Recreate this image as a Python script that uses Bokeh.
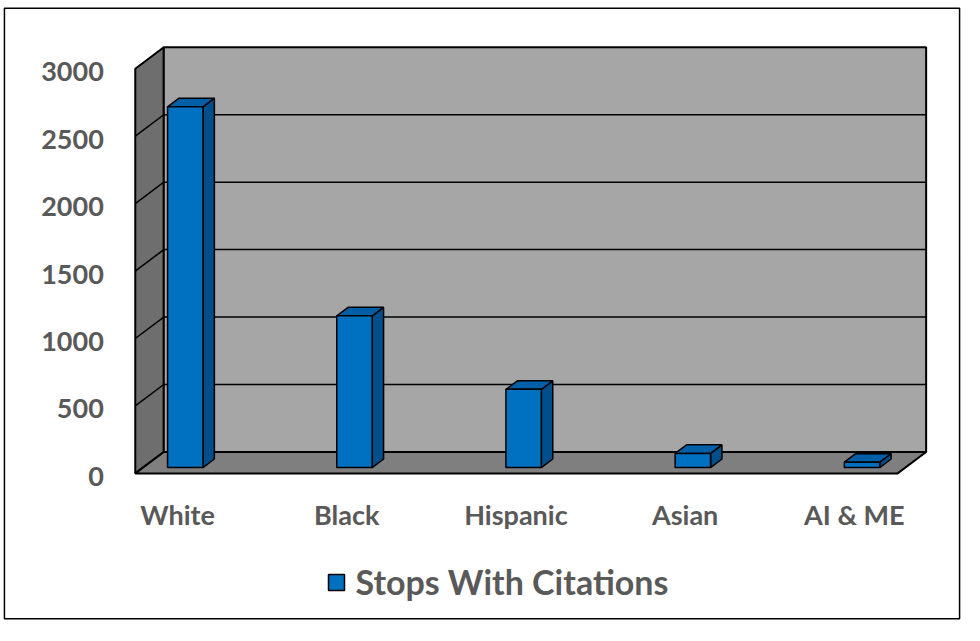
from bokeh.plotting import figure
from bokeh.models import Range1d, Legend, LegendItem
from bokeh.core.properties import value
from bokeh.embed import file_html
from bokeh.resources import INLINE

# ---- data ----
categories = ["White", "Black", "Hispanic", "Asian", "AI & ME"]
stops_with_citations = [2675, 1125, 580, 105, 40]
y_ticks = [0, 500, 1000, 1500, 2000, 2500, 3000]
series_name = "Stops With Citations"

# ---- layout (reference-image pixels, scaled onto the figure) ----
REF_W, REF_H = 980.0, 641.0
W, H = 964, 625
KX, KY = W / REF_W, H / REF_H
PX0, SLOT = 180.0, 172.0          # front-plane centre of first category, spacing
Y0, SY = 485.0, 415.0 / 3000.0    # front-plane zero, px per unit
DEPTH_X, DEPTH_Y = 29.0, 22.0     # wall depth in px
FLOOR_L, FLOOR_R = 137.0, 912.0
YMAX = 3000


def xd(px):
    return (px - PX0) / SLOT


def yd(py):
    return (Y0 - py) / SY


dX = DEPTH_X / SLOT
dY = DEPTH_Y / SY
xL, xR = xd(FLOOR_L), xd(FLOOR_R)

p = figure(width=W, height=H, output_backend="svg", toolbar_location=None,
           x_axis_type=None, y_axis_type=None,
           x_range=Range1d(xd(0), xd(REF_W)),
           y_range=Range1d(yd(REF_H), yd(0)),
           min_border=0)
p.grid.visible = False
p.outline_line_color = None
p.background_fill_color = "white"
p.border_fill_color = "white"

# chart border
p.patch([xd(4), xd(975), xd(975), xd(4)], [yd(8), yd(8), yd(634), yd(634)],
        fill_color=None, line_color="black", line_width=1.5)

EDGE = "black"
# left wall
p.patch([xL, xL, xL + dX, xL + dX], [0, YMAX, YMAX + dY, dY],
        fill_color="#6E6E6E", line_color=EDGE, line_width=2)
# back wall
p.patch([xL + dX, xR + dX, xR + dX, xL + dX], [dY, dY, YMAX + dY, YMAX + dY],
        fill_color="#A6A6A6", line_color=EDGE, line_width=2)
# gridlines
for t in y_ticks[1:-1]:
    p.line([xL, xL + dX, xR + dX], [t, t + dY, t + dY], line_color="black", line_width=1.5)
# floor
p.patch([xL, xR, xR + dX, xL + dX], [0, 0, dY, dY],
        fill_color="#7F7F7F", line_color=EDGE, line_width=2)

# bars
BW = 36.0 / SLOT
d0, d1 = 0.27, 0.67
fx, fy, tx, ty, sx, sy = [], [], [], [], [], []
ddx, ddy = (d1 - d0) * dX, (d1 - d0) * dY
for i, v in enumerate(stops_with_citations):
    xl = i - BW / 2 + d0 * dX
    xr = i + BW / 2 + d0 * dX
    b = d0 * dY
    fx.append([xl, xr, xr, xl]); fy.append([b, b, b + v, b + v])
    tx.append([xl, xr, xr + ddx, xl + ddx]); ty.append([b + v, b + v, b + v + ddy, b + v + ddy])
    sx.append([xr, xr + ddx, xr + ddx, xr]); sy.append([b, b + ddy, b + ddy + v, b + v])

p.patches(sx, sy, fill_color="#004F8C", line_color="black", line_width=1.5)
p.patches(tx, ty, fill_color="#005FA6", line_color="black", line_width=1.5)
front = p.patches(fx, fy, fill_color="#0070C0", line_color="black", line_width=1.5)

# y tick labels
p.text(x=[xd(105)] * len(y_ticks), y=y_ticks, text=[str(t) for t in y_ticks],
       text_align="right", text_baseline="middle", y_offset=3,
       text_font=value("Lato"), text_font_style="bold", text_font_size="27px",
       text_color="#595959")

# category labels
p.text(x=list(range(len(categories))), y=[yd(527)] * len(categories), text=categories,
       text_align="center", text_baseline="middle",
       text_font=value("Lato"), text_font_style="bold", text_font_size="27px",
       text_color="#595959")

legend = Legend(items=[LegendItem(label=series_name, renderers=[front])],
                location=(331 * KX, 23),
                orientation="horizontal",
                glyph_width=20, glyph_height=20, label_standoff=10,
                label_text_font="Lato", label_text_font_style="bold",
                label_text_font_size="34px", label_text_color="#595959",
                border_line_color=None, background_fill_alpha=0,
                padding=0, margin=0, spacing=0)
p.add_layout(legend)

open("out.html", "w").write(file_html(p, INLINE))
